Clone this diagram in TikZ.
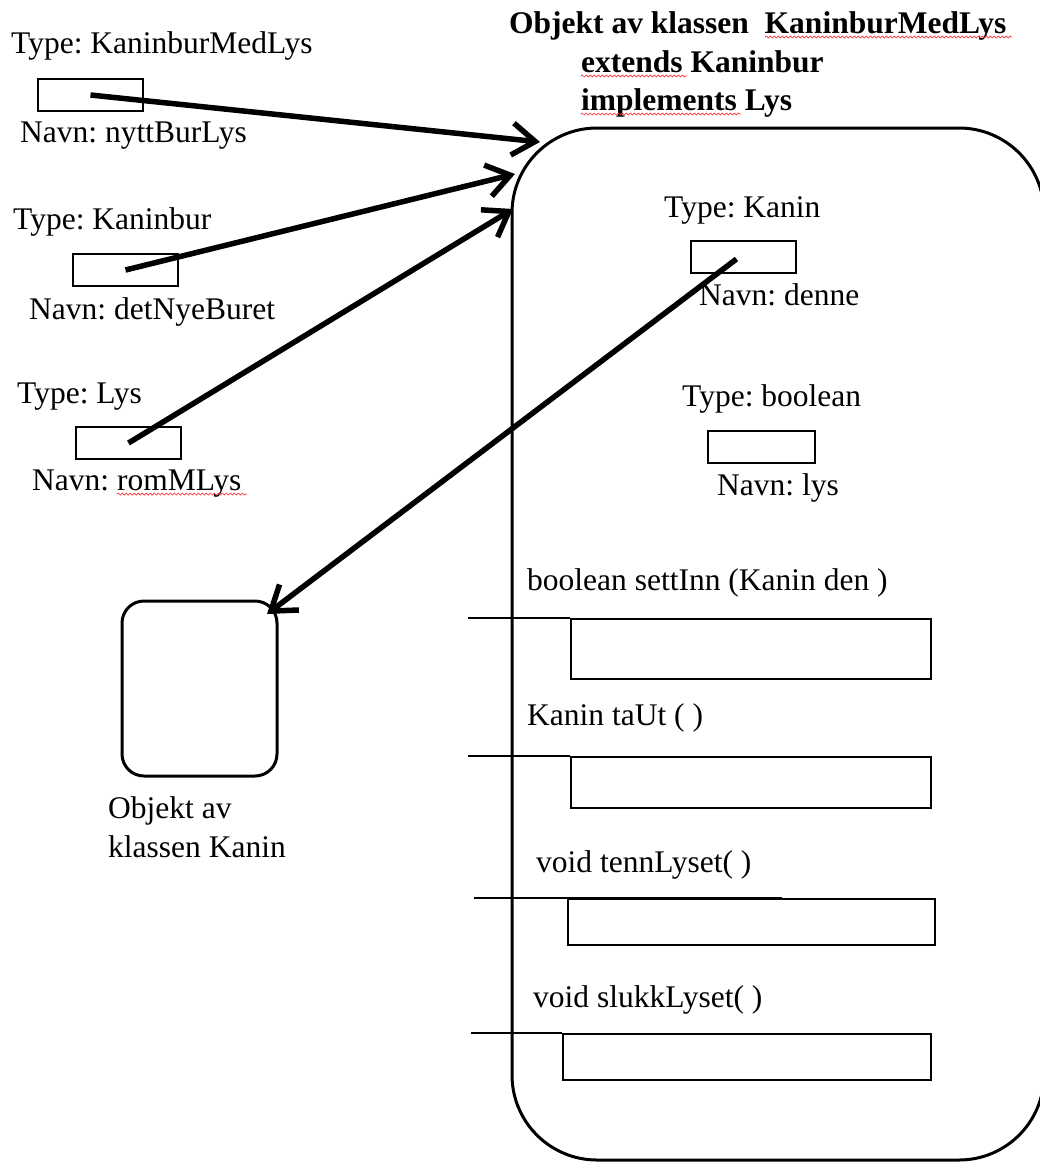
\documentclass[tikz,border=0pt]{standalone}
\usepackage{fontspec}
\setmainfont{Liberation Serif}
\usetikzlibrary{arrows.meta}
\usetikzlibrary{decorations.pathmorphing}
\frenchspacing

\begin{document}
\begin{tikzpicture}[x=1pt, y=-1pt,
    lbl/.style={anchor=base west, inner sep=0, font=\fontsize{31.5}{38}\selectfont},
    ttl/.style={lbl, font=\fontsize{31.5}{38}\selectfont\bfseries},
    var/.style={draw, line width=1.8pt, inner sep=0, minimum width=105pt, minimum height=32pt},
    meth/.style={draw, line width=1.8pt, inner sep=0, anchor=north west},
    tick/.style={line width=1.8pt},
    ptr/.style={line width=5.5pt, -{Straight Barb[length=23pt, width=32pt]}},
    spell/.style={red!80, line width=0.7pt, decorate, decoration={snake, amplitude=1pt, segment length=4pt}}]
        \useasboundingbox (0,0) rectangle (1039,1162);

        % object of class KaninburMedLys
        \node (obj) [draw, line width=3pt, rounded corners=85pt, minimum width=532pt, minimum height=1032pt] at (778,644) {};
        \node (t0) [ttl] at (509,33) {Objekt av klassen\ \ KaninburMedLys};
        \node (t1) [ttl] at (581,72) {extends Kaninbur};
        \node (t2) [ttl] at (581,110) {implements Lys};

        % reference variables
        \node (ty0) [lbl] at (11,53) {Type: KaninburMedLys};
        \node (v0) [var] at (90.5,95) {};
        \node (na0) [lbl] at (20,142) {Navn: nyttBurLys};

        \node (ty1) [lbl] at (13,229) {Type: Kaninbur};
        \node (v1) [var] at (125.5,270) {};
        \node (na1) [lbl] at (29,319) {Navn: detNyeBuret};

        \node (ty2) [lbl] at (17,403) {Type: Lys};
        \node (v2) [var] at (128.5,443) {};
        \node (na2) [lbl] at (32,490) {Navn: romMLys};

        % instance variables
        \node (ty3) [lbl] at (664,217) {Type: Kanin};
        \node (v3) [var] at (743.5,257) {};
        \node (na3) [lbl] at (699,305) {Navn: denne};

        \node (ty4) [lbl] at (682,406) {Type: boolean};
        \node (v4) [var, minimum width=107pt] at (761.5,447) {};
        \node (na4) [lbl] at (717,495) {Navn: lys};

        % methods
        \node (h0) [lbl] at (527,590) {boolean settInn (Kanin den )};
        \node (m0) [meth, minimum width=360pt, minimum height=60pt] at (570,618) {};
        \node (h1) [lbl] at (527,725) {Kanin taUt ( )};
        \node (m1) [meth, minimum width=360pt, minimum height=51pt] at (570,756) {};
        \node (h2) [lbl] at (536,872) {void tennLyset( )};
        \node (m2) [meth, minimum width=367pt, minimum height=46pt] at (567,898) {};
        \node (h3) [lbl] at (533,1007) {void slukkLyset( )};
        \node (m3) [meth, minimum width=368pt, minimum height=46pt] at (562,1033) {};

        \coordinate (k0) at (468,618);
        \coordinate (k1) at (468,756);
        \coordinate (k2) at (474,898);
        \coordinate (k3) at (471,1033);
        \draw[tick] (k0) -- (m0.north west);
        \draw[tick] (k1) -- (m1.north west);
        \draw[tick] (k2) -- ([xshift=215pt]m2.north west);
        \draw[tick] (k3) -- (m3.north west);

        % object of class Kanin
        \node (kanin) [draw, line width=3pt, rounded corners=22pt, minimum width=155pt, minimum height=175pt] at (199.5,688.5) {};
        \node (kl0) [lbl] at (108,818) {Objekt av};
        \node (kl1) [lbl] at (108,857) {klassen Kanin};

        % pointers
        \coordinate (in0) at (540,142);
        \coordinate (in1) at (515,174);
        \coordinate (in2) at (513,209);
        \coordinate (in3) at (267,614);
        \draw[ptr] (v0.center) -- (in0);
        \draw[ptr] (v1.center) -- (in1);
        \draw[ptr] (v2.center) -- (in2);
        \draw[ptr] ([shift={(-7,2)}]v3.center) -- (in3);

        % spell check marks
        \draw[spell] (765,37) -- (1012,37);
        \draw[spell] (581,76) -- (687,76);
        \draw[spell] (581,114) -- (741,114);
        \draw[spell] (117,494) -- (247,494);
      \end{tikzpicture}
\end{document}
